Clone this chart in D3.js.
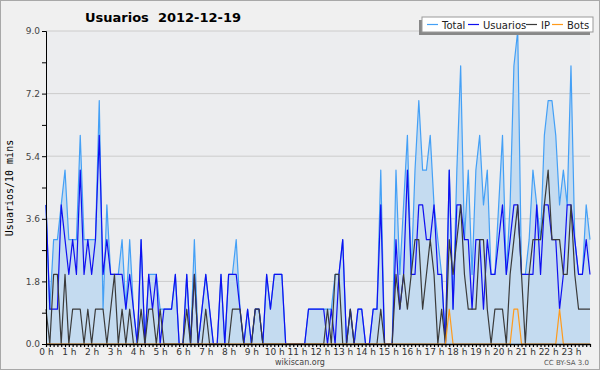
<!DOCTYPE html>
<html>
<head>
<meta charset="utf-8">
<script src="https://cdn.jsdelivr.net/npm/d3@7"></script>
<style>
  html, body { margin: 0; padding: 0; background: #f0f0f0; }
  svg { display: block; font-family: "DejaVu Sans", sans-serif; }
</style>
</head>
<body>
<svg id="chart" width="600" height="370"></svg>
<script>
// values per 10 minute slot, 0h00 .. 23h50
const total = [
  4,1,3,3,4,5,3,3,3,6,3,3,  3,3,7,1,4,2,2,2,3,1,3,1,
  0,3,0,2,2,2,1,1,1,1,2,0,  0,2,0,3,0,1,2,1,0,0,2,0,
  2,2,3,1,0,1,0,1,1,0,2,1,  2,2,2,0,0,0,0,0,0,1,1,1,
  1,1,1,1,2,2,3,0,1,0,1,1,  0,0,1,1,5,0,0,0,5,2,4,6,
  2,5,7,5,5,6,4,3,2,0,5,1,  5,8,3,5,2,5,6,4,5,2,2,4,
  6,2,4,8,9,2,2,3,5,4,3,6,  7,7,6,4,5,4,8,3,2,2,4,3
];
const usuarios = [
  4,1,1,1,4,3,2,3,2,5,2,3,  2,3,6,2,3,2,2,2,2,1,2,1,
  0,3,0,2,1,2,0,1,1,1,2,0,  0,2,0,2,0,1,2,1,0,0,2,0,
  2,2,2,1,0,1,0,1,1,0,2,1,  2,2,2,0,0,0,0,0,0,1,1,1,
  1,1,0,1,0,2,3,0,1,0,1,1,  0,0,1,1,4,0,0,0,3,1,2,5,
  2,2,4,4,3,3,4,2,2,0,5,1,  4,4,3,3,1,3,3,1,3,2,2,3,
  4,2,3,4,4,2,2,2,2,4,2,4,  4,3,3,1,2,4,4,3,2,2,3,2
];
const ip = [
  1,0,2,2,0,2,0,1,1,1,0,1,  0,1,1,1,0,1,2,0,1,0,1,0,
  0,1,0,1,1,0,1,0,0,0,0,0,  0,1,0,2,0,0,1,0,0,0,0,0,
  0,1,1,1,0,0,0,1,1,0,0,0,  0,0,0,0,0,0,0,0,0,0,0,0,
  0,0,1,0,2,2,0,0,1,0,0,0,  0,0,0,0,1,0,0,0,2,1,2,1,
  2,3,3,1,2,3,2,0,1,0,3,2,  3,4,2,1,1,1,3,3,1,0,1,1,
  1,0,2,3,4,2,0,2,3,3,3,4,  5,3,3,3,2,2,4,2,1,1,1,1
];
const bots = [
  0,0,0,0,0,0,0,0,0,0,0,0,  0,0,0,0,0,0,0,0,0,0,0,0,
  0,0,0,0,0,0,0,0,0,0,0,0,  0,0,0,0,0,0,0,0,0,0,0,0,
  0,0,0,0,0,0,0,0,0,0,0,0,  0,0,0,0,0,0,0,0,0,0,0,0,
  0,0,0,0,0,0,0,0,0,0,0,0,  0,0,0,0,0,0,0,0,0,0,0,0,
  0,0,0,0,0,0,0,0,0,0,1,0,  0,0,0,0,0,0,0,0,0,0,0,0,
  0,0,0,1,1,0,0,0,0,0,0,0,  0,0,0,1,0,0,0,0,0,0,0,0
];
const hourLabels = d3.range(24).map(h => h + " h");
const yTicks = [0, 1.8, 3.6, 5.4, 7.2, 9.0];
const seriesNames = ["Total", "Usuarios", "IP", "Bots"];
const seriesColors = ["#44a0f6", "#0f0ff0", "#3a3a3a", "#ff9a1a"];

const margin = { top: 31, right: 10, bottom: 26, left: 46 };
const width = 600 - margin.left - margin.right;
const height = 370 - margin.top - margin.bottom;

const svg = d3.select("#chart");

svg.append("rect")
    .attr("x", 0.5).attr("y", 0.5)
    .attr("width", 599).attr("height", 369)
    .attr("fill", "#f0f0f0")
    .attr("stroke", "#a8a8a8");

const g = svg.append("g")
    .attr("transform", `translate(${margin.left}, ${margin.top})`);

g.append("rect")
    .attr("width", width).attr("height", height)
    .attr("fill", "#ecedef");

const x = d3.scaleLinear().domain([0, total.length - 1]).range([0, width]);
const y = d3.scaleLinear().domain([0, 9]).range([height, 0]);

// grid
g.append("g")
    .selectAll("line")
    .data(yTicks.slice(1))
    .join("line")
    .attr("x1", 0).attr("x2", width)
    .attr("y1", d => y(d)).attr("y2", d => y(d))
    .attr("stroke", "#cccccc");

const area = d3.area()
    .x((d, i) => x(i))
    .y0(y(0))
    .y1(d => y(d));

g.append("path")
    .datum(total)
    .attr("fill", "#c4dbf0")
    .attr("d", area);

const line = d3.line()
    .x((d, i) => x(i))
    .y(d => y(d));

[total, usuarios, ip, bots].forEach((s, k) => {
    g.append("path")
        .datum(s)
        .attr("fill", "none")
        .attr("stroke", seriesColors[k])
        .attr("stroke-width", 1.2)
        .attr("stroke-linejoin", "round")
        .attr("d", line);
});

// axes
const yAxis = g.append("g")
    .call(d3.axisLeft(y).tickValues(d3.range(0, 9.01, 0.9)).tickSize(4)
        .tickFormat(d => yTicks.some(t => Math.abs(t - d) < 1e-6) ? d.toFixed(1) : ""));
yAxis.select(".domain").attr("stroke", "#000");
yAxis.selectAll("text").attr("font-size", 9).attr("fill", "#444")
    .attr("font-family", "DejaVu Sans").attr("dx", 1);

const xAxis = g.append("g")
    .attr("transform", `translate(0, ${height})`)
    .call(d3.axisBottom(x).tickValues(d3.range(0, total.length)).tickSize(3).tickSizeOuter(0)
        .tickFormat(d => d % 6 === 0 ? hourLabels[d / 6] : ""));
xAxis.select(".domain").attr("stroke", "#000").attr("stroke-width", 1.5);
xAxis.selectAll("line").attr("stroke-width", 1.2);
xAxis.selectAll("text").attr("font-size", 9).attr("fill", "#333")
    .attr("font-family", "DejaVu Sans").attr("dy", "0.5em");

// titles
svg.append("text")
    .attr("x", 85).attr("y", 22)
    .attr("font-size", 13).attr("font-weight", "bold")
    .style("white-space", "pre")
    .text("Usuarios  2012-12-19");

svg.append("text")
    .attr("transform", "translate(13, 188) rotate(-90)")
    .attr("text-anchor", "middle")
    .attr("font-family", "DejaVu Sans Mono")
    .attr("font-size", 10)
    .text("Usuarios/10 mins");

svg.append("text")
    .attr("x", 300).attr("y", 365)
    .attr("text-anchor", "middle")
    .attr("font-size", 8).attr("fill", "#444")
    .text("wikiscan.org");

svg.append("text")
    .attr("x", 589).attr("y", 365)
    .attr("text-anchor", "end")
    .attr("font-size", 7).attr("fill", "#555")
    .text("CC BY-SA 3.0");

// legend
const legend = svg.append("g").attr("transform", "translate(422, 17)");
legend.append("rect")
    .attr("x", -3).attr("y", 3)
    .attr("width", 171).attr("height", 15)
    .attr("fill", "#888");
legend.append("rect")
    .attr("width", 171).attr("height", 15)
    .attr("fill", "#fff").attr("stroke", "#999");

const offsets = [5, 46, 104, 130];
seriesNames.forEach((name, k) => {
    legend.append("line")
        .attr("x1", offsets[k]).attr("x2", offsets[k] + 11)
        .attr("y1", 7.5).attr("y2", 7.5)
        .attr("stroke", seriesColors[k]).attr("stroke-width", 1.2);
    legend.append("text")
        .attr("x", offsets[k] + 15).attr("y", 11.5)
        .attr("font-size", 10).attr("fill", "#222")
        .text(name);
});
</script>
</body>
</html>
